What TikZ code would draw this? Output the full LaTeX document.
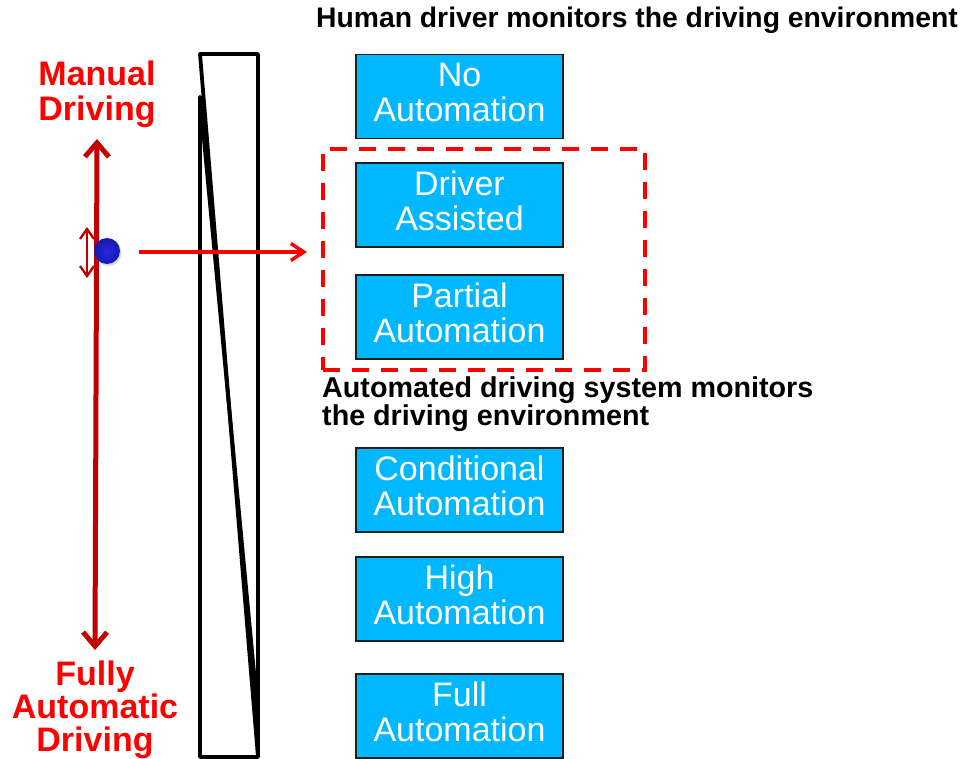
\documentclass[tikz,border=0pt]{standalone}
\usepackage{fontspec}
\setmainfont{Liberation Sans}
\usetikzlibrary{arrows.meta}
\definecolor{boxblue}{RGB}{0,184,255}
\definecolor{boxedge}{RGB}{30,30,30}
\definecolor{darkred}{RGB}{192,0,0}
\definecolor{brightred}{RGB}{255,0,0}
\definecolor{dotblue}{RGB}{40,40,226}
\definecolor{dotdark}{RGB}{24,24,175}
\begin{document}
\begin{tikzpicture}[x=1pt,y=-1pt,
  level/.style={draw=boxedge, line width=1.5pt, fill=boxblue,
    minimum width=207pt, minimum height=84pt, inner sep=0pt,
    align=center, text=white, font=\fontsize{34}{35}\selectfont,
    execute at end node={\rule[-8pt]{0pt}{0pt}}},
  redlabel/.style={text=brightred, inner sep=0pt, align=center},
  blacklabel/.style={text=black, inner sep=0pt, align=left},
  groupbox/.style={draw=brightred, line width=3.5pt, dash pattern=on 17pt off 12pt},
  scalearrow/.style={draw=darkred, line width=5pt,
    {Straight Barb[length=14pt,width=24pt]}-{Straight Barb[length=14pt,width=24pt]}},
  smallarrow/.style={draw=darkred, line width=2.3pt,
    {Straight Barb[length=10pt,width=14pt]}-{Straight Barb[length=10pt,width=14pt]}},
  pointer/.style={draw=brightred, line width=3.5pt, -{Straight Barb[length=13pt,width=17pt]}},
  wedge/.style={draw=black, line width=3.8pt, line join=round, line cap=round}
]
\useasboundingbox (0,0) rectangle (972,759);

% header texts
\node[blacklabel, anchor=base west, font=\bfseries\fontsize{28.3}{29}\selectfont] (hdr) at (316,28) {Human driver monitors the driving environment};
\node[blacklabel, anchor=north west, font=\bfseries\fontsize{28.7}{28.5}\selectfont] (adsl) at (322,376.5) {Automated driving system monitors\\the driving environment};

% level boxes
\node[level] (l0) at (459.5,96.5) {No\\Automation};
\node[level] (l1) at (459.5,205) {Driver\\Assisted};
\node[level] (l2) at (459.5,317) {Partial\\Automation};
\node[level] (l3) at (459.5,490) {Conditional\\Automation};
\node[level] (l4) at (459.5,599) {High\\Automation};
\node[level] (l5) at (459.5,716) {Full\\Automation};

% dashed group
\node[groupbox, minimum width=322pt, minimum height=221pt, inner sep=0pt] (grp) at (484,259.5) {};

% wedge rectangle
\coordinate (tl) at (200,54);
\coordinate (tr) at (258,54);
\coordinate (br) at (258,757);
\coordinate (bl) at (200,757);
\coordinate (l2c) at (200,97);
\coordinate (r2c) at (258,715);
\draw[wedge] (l2c) -- (bl) -- (br) -- (tr) -- (tl) -- (br);
\draw[wedge] (l2c) -- (r2c);

% red labels
\node[redlabel, font=\bfseries\fontsize{34}{35}\selectfont] (manual) at (97,94) {Manual\\Driving};
\node[redlabel, font=\bfseries\fontsize{34}{33}\selectfont] (fully) at (95,709.5) {Fully\\Automatic\\Driving};

% scale arrow
\coordinate (stop) at (97,139);
\coordinate (sbot) at (95,650);
\draw[scalearrow] (stop) -- (sbot);

% small double arrow
\coordinate (atop) at (87,227);
\coordinate (abot) at (87,278);
\draw[smallarrow] (atop) -- (abot);

% dot
\fill[black!25, opacity=0.6] (108.5,253) circle (13);
\shade[inner color=dotblue, outer color=dotdark] (107,251) circle (13);
\node[inner sep=0pt, minimum size=26pt, circle] (dot) at (107,251) {};

% pointer arrow
\coordinate (pstart) at (139,252);
\coordinate (pend) at (307,252);
\draw[pointer] (pstart) -- (pend);
\end{tikzpicture}
\end{document}
